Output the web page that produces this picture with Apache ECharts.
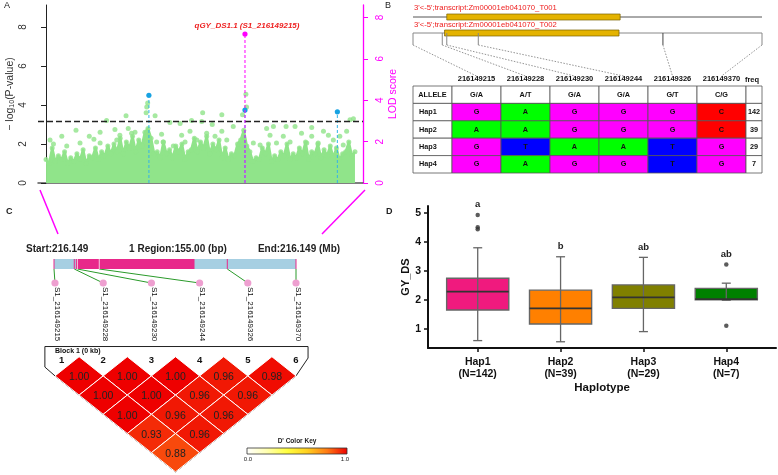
<!DOCTYPE html>
<html><head><meta charset="utf-8">
<script src="https://cdn.jsdelivr.net/npm/echarts@6/dist/echarts.min.js"></script>
<style>html,body{margin:0;padding:0;background:#fff}#c{width:778px;height:475px}</style>
</head><body><div id="c"></div><script>
// ---------------- Panel A data (Manhattan / LOD) ----------------
const envX = [0,1,2,3,4,5,6,7,8,9,10,11,12,13,14,15,16,17,18,19,20,21,22,23,24,25,26,27,28,29,30,31,32,33,34,35,36,37,38,39,40,41,42,43,44,45,46,47,48,49,50,51,52,53,54,55,56,57,58,59,60,61,62,63,64,65,66,67,68,69,70,71,72,73,74,75,76,77,78,79,80,81,82,83,84,85,86,87,88,89,90,91,92,93,94,95,96,97,98,99,100];
const envY = [1.2,1.0,1.8,1.1,1.4,1.2,1.6,1.0,1.3,1.1,1.5,1.2,1.7,1.0,1.4,1.3,1.8,1.2,1.6,1.4,
  1.9,1.5,2.0,1.6,2.3,1.5,2.1,1.8,2.4,1.6,2.2,1.9,2.6,2.8,2.3,1.5,1.6,1.3,2.1,1.5,
  1.7,1.3,1.9,1.6,2.0,1.2,1.6,1.7,2.3,1.6,2.1,1.8,2.4,1.5,2.0,1.7,2.2,1.3,1.8,1.2,
  1.5,1.4,2.0,2.2,2.7,1.9,1.6,1.1,1.3,1.2,1.8,1.5,2.0,1.1,1.4,1.2,1.6,1.4,2.0,1.2,
  1.5,1.3,1.8,1.5,2.1,1.2,1.6,1.5,2.0,1.3,1.7,1.4,1.9,1.3,1.8,1.2,1.5,1.6,2.1,1.4,1.6];
const upperPts = [[1.3,2.2],[5.1,2.4],[9.7,2.7],[14.0,2.4],[17.5,2.6],[19.6,3.2],[22.3,2.75],[25.9,3.45],[26.6,2.8],[28.8,2.6],
  [32.6,3.9],[32.9,4.1],[32.4,3.6],[35.3,3.45],[37.4,2.5],[40.1,3.1],[43.4,3.05],[43.9,2.45],[47.1,3.2],[50.7,3.6],
  [50.4,3.15],[53.8,3.0],[56.9,3.5],[56.9,2.65],[60.6,2.9],[63.6,3.5],[64.7,4.55],[64.9,3.9],[71.4,2.8],[73.6,2.9],
  [77.7,2.9],[80.6,2.9],[86.0,2.85],[86.0,2.4],[98.4,3.25],[99.5,3.3],[91.4,2.45],[97.3,2.65],
  [2.4,2.0],[6.7,1.9],[11.0,2.05],[15.5,2.25],[17.5,2.05],[22.9,2.2],[23.9,2.45],[27.7,2.55],[35.8,2.1],[37.9,2.1],
  [41.2,1.9],[45.0,2.1],[46.6,2.65],[48.8,2.2],[52.0,2.55],[54.7,2.4],[58.5,2.2],[67.1,2.05],[69.3,1.95],[72.5,2.45],
  [74.6,2.05],[76.8,2.4],[79.0,2.1],[82.7,2.55],[84.4,2.05],[88.1,2.05],[89.8,2.65],[93.0,2.2],[95.1,2.4],[96.2,1.95]];
const leadSnps = [[33.3,4.5],[64.4,3.74],[94.3,3.65]];
const qtlPeak = [[64.4,7.2]];
const qtlName = 'qGY_DS1.1 (S1_216149215)';
const threshold = 3.18;
const pTicks = [0,2,4,6,8];
const lodTicks = [0,2,4,6,8];

// ---------------- Panel B data (gene + haplotype table) ----------------
const regionStart = 216149215, regionEnd = 216149370;
const transcriptNames = ["3'<-5';transcript:Zm00001eb041070_T001", "3'<-5';transcript:Zm00001eb041070_T002"];
const transcriptStart = [216149230, 216149229];
const transcriptEnd = [216149307, 216149306.5];
const snpPos = [216149215,216149228,216149230,216149244,216149326,216149370];
const alleles = ['G/A','A/T','G/A','G/A','G/T','C/G'];
const haps = ['Hap1','Hap2','Hap3','Hap4'];
const hapSeq = [['G','A','G','G','G','C'],['A','A','G','G','G','C'],['G','T','A','A','T','G'],['G','A','G','G','T','G']];
const hapFreq = [142,39,29,7];
const baseColor = {G:'#ff00ff', A:'#00ff00', T:'#0000ff', C:'#ff0000'};

// ---------------- Panel C data (LD block) ----------------
const geneStart = 216149229, geneEnd = 216149305;
const ldValues = [[1,2,1.00],[2,3,1.00],[3,4,1.00],[4,5,0.96],[5,6,0.98],
  [1,3,1.00],[2,4,1.00],[3,5,0.96],[4,6,0.96],
  [1,4,1.00],[2,5,0.96],[3,6,0.96],
  [1,5,0.93],[2,6,0.96],
  [1,6,0.88]];
const ldColors = ['#ffffff','#ffffb0','#ffff40','#ffd020','#ff7a14','#ee0000'];

// ---------------- Panel D data (boxplot) ----------------
const hapN = [142,39,29,7];
const boxStats = [[0.60,1.655,2.29,2.75,3.80],[0.56,1.17,1.71,2.34,3.49],[0.91,1.71,2.09,2.52,3.47],[1.99,2.01,2.03,2.40,2.58]];
const outliers = [[1,4.93],[1,4.51],[1,4.44],[4,3.22],[4,1.11]];
const sigLetters = ['a','b','ab','ab'];
const hapColors = ['#f01a7e','#ff8000','#808000','#008000'];

// ---------------- layout constants ----------------
const FF = 'Liberation Sans';
const GREEN = '#90e48a';
const ALLELE_W = 39, FREQ_W = 16;

const chart = echarts.init(document.getElementById('c'));

const tableCells = [];
tableCells.push({col:-1,row:0,text:'ALLELE',fill:'#fff',align:'center'});
alleles.forEach((a,c)=>tableCells.push({col:c,row:0,text:a,fill:'#fff',align:'center'}));
tableCells.push({col:6,row:0,text:'',fill:'#fff',align:'center'});
haps.forEach((h,r)=>{
  tableCells.push({col:-1,row:r+1,text:h,fill:'#fff',align:'left'});
  hapSeq[r].forEach((b,c)=>tableCells.push({col:c,row:r+1,text:b,fill:baseColor[b],align:'center'}));
  tableCells.push({col:6,row:r+1,text:String(hapFreq[r]),fill:'#fff',align:'center'});
});

function hv(gi,min,max,inv){return {gridIndex:gi,type:'value',min:min,max:max,inverse:!!inv,show:false};}
const envData = envX.map((x,i)=>[x,envY[i]]);

const option = {
  animation:false,
  textStyle:{fontFamily:FF},
  grid:[
    {left:38, top:5, width:325, height:178},
    {left:413, top:5, width:349, height:40},
    {left:452, top:86, width:294, height:87},
    {left:54, top:259, width:242, height:10},
    {left:55, top:283, width:241, height:60},
    {left:55, top:356.7, width:241, height:115.2},
    {left:428, top:206, width:348, height:142}
  ],
  xAxis:[
    {gridIndex:0,type:'value',min:-2.6,max:102.6,axisLine:{show:true,onZero:false,lineStyle:{color:'#555',width:1.5}},axisTick:{show:false},axisLabel:{show:false},splitLine:{show:false}},
    hv(1,regionStart,regionEnd),
    {gridIndex:2,type:'category',position:'top',data:snpPos.map(String),axisLine:{show:false},axisTick:{show:false},
      axisLabel:{margin:3,fontSize:7.5,fontWeight:'bold',color:'#111',interval:0}},
    hv(3,regionStart,regionEnd),
    hv(4,1,6),
    hv(5,1,6),
    {gridIndex:6,type:'value',min:0.4,max:4.6,splitLine:{show:false},
      axisLine:{show:true,onZero:false,lineStyle:{color:'#111',width:2}},
      axisTick:{show:true,length:4,lineStyle:{color:'#111',width:1.5},customValues:[1,2,3,4]},
      axisLabel:{customValues:[1,2,3,4],margin:8,fontSize:10.5,fontWeight:'bold',color:'#111',lineHeight:12,
        formatter:v=>{const k=Math.round(v)-1;return haps[k]+'\n(N='+hapN[k]+')';}},
      name:'Haplotype',nameLocation:'middle',nameGap:34,nameTextStyle:{fontSize:11.5,fontWeight:'bold',color:'#111'}}
  ],
  yAxis:[
    {gridIndex:0,type:'value',min:0,max:9.13,position:'left',splitLine:{show:false},
      axisLine:{show:true,lineStyle:{color:'#222'}},
      axisTick:{show:true,length:5,customValues:pTicks,lineStyle:{color:'#222'}},
      axisLabel:{rotate:90,margin:10,fontSize:10,color:'#333',customValues:pTicks},
      name:'{a|\u2212 log}{s|10}{a|(P-value)}',nameLocation:'middle',nameRotate:90,nameGap:22,
      nameTextStyle:{rich:{a:{fontSize:10.5,color:'#333'},s:{fontSize:7,color:'#333',verticalAlign:'bottom'}}}},
    {gridIndex:0,type:'value',min:0,max:8.6,position:'right',splitLine:{show:false},
      axisLine:{show:true,lineStyle:{color:'#ff00ff',width:1.3}},
      axisTick:{show:true,length:5,customValues:lodTicks,lineStyle:{color:'#ff00ff'}},
      axisLabel:{rotate:90,margin:12,fontSize:10,color:'#ff00ff',customValues:lodTicks},
      name:'LOD score',nameLocation:'middle',nameRotate:90,nameGap:25,nameTextStyle:{color:'#ff00ff',fontSize:10.5}},
    hv(1,0,40,true),
    {gridIndex:2,type:'category',data:['ALLELE'].concat(haps),inverse:true,show:false},
    hv(3,0,1),
    hv(4,0,1),
    hv(5,0,6,true),
    {gridIndex:6,type:'value',min:0.345,max:5.24,splitLine:{show:false},
      axisLine:{show:true,lineStyle:{color:'#111',width:2}},
      axisTick:{show:true,length:4,customValues:[1,2,3,4,5],lineStyle:{color:'#111',width:1.5}},
      axisLabel:{customValues:[1,2,3,4,5],margin:7,fontSize:10.5,fontWeight:'bold',color:'#111'},
      name:'GY_DS',nameLocation:'middle',nameRotate:90,nameGap:17,nameTextStyle:{fontSize:11,fontWeight:'bold',color:'#111'}}
  ],
  visualMap:[{type:'continuous',show:false,min:0,max:1,dimension:2,seriesIndex:11,inRange:{color:ldColors}}],
  series:[
    // 0 area mass
    {type:'line',xAxisIndex:0,yAxisIndex:0,data:envData,symbol:'none',
      lineStyle:{color:GREEN,width:2.5,join:'round'},areaStyle:{color:GREEN,opacity:1},z:2,
      markLine:{silent:true,symbol:'none',label:{show:false},lineStyle:{color:'#222',type:[6,3],width:1.3},data:[{yAxis:threshold}]}},
    // 1 envelope dots
    {type:'scatter',xAxisIndex:0,yAxisIndex:0,data:envData,symbolSize:5,itemStyle:{color:GREEN},z:2},
    // 2 upper dots
    {type:'scatter',xAxisIndex:0,yAxisIndex:0,data:upperPts,symbolSize:5,itemStyle:{color:GREEN},z:2},
    // 3 lead SNPs
    {type:'custom',xAxisIndex:0,yAxisIndex:0,data:leadSnps,z:4,renderItem:(p,api)=>{
      const x=api.value(0),y=api.value(1);const t=api.coord([x,y]),b=api.coord([x,0]);
      return {type:'group',children:[
        {type:'line',shape:{x1:b[0],y1:b[1],x2:t[0],y2:t[1]},style:{stroke:'#35b4e8',lineWidth:1,lineDash:[3,2]}},
        {type:'circle',shape:{cx:t[0],cy:t[1],r:2.6},style:{fill:'#17a2e2'}}]};}},
    // 4 QTL peak on LOD axis
    {type:'custom',xAxisIndex:0,yAxisIndex:1,data:qtlPeak,z:5,renderItem:(p,api)=>{
      const x=api.value(0),y=api.value(1);const t=api.coord([x,y]),b=api.coord([x,0]);
      return {type:'group',children:[
        {type:'line',shape:{x1:b[0],y1:b[1],x2:t[0],y2:t[1]},style:{stroke:'#ff00ff',lineWidth:1,lineDash:[3,2]}},
        {type:'circle',shape:{cx:t[0],cy:t[1],r:2.6},style:{fill:'#ff00ff'}},
        {type:'text',x:t[0]+2,y:t[1]-8,style:{text:qtlName,fill:'#ee2222',fontSize:8,fontWeight:'bold',fontStyle:'italic',fontFamily:FF,align:'center',verticalAlign:'middle'}}]};}},
    // 5 transcripts
    {type:'custom',xAxisIndex:1,yAxisIndex:2,data:transcriptStart.map((s,i)=>[s,transcriptEnd[i]]),renderItem:(p,api)=>{
      const i=p.dataIndex;const rowY=[12,28][i];
      const L=api.coord([regionStart,rowY]),R=api.coord([regionEnd,rowY]);
      const s=api.coord([api.value(0),rowY]),e=api.coord([api.value(1),rowY]);
      return {type:'group',children:[
        {type:'line',shape:{x1:L[0],y1:L[1],x2:R[0],y2:R[1]},style:{stroke:i?'#888':'#555',lineWidth:1}},
        {type:'rect',shape:{x:s[0],y:s[1]-3,width:e[0]-s[0],height:6},style:{fill:'#e4b300',stroke:'#7a6200',lineWidth:0.7}},
        {type:'text',x:L[0]+1,y:L[1]-(i?8:9),style:{text:transcriptNames[i],fill:'#ee1c1c',fontSize:7.7,fontFamily:FF,align:'left',verticalAlign:'middle'}}]};}},
    // 6 bracket ticks
    {type:'custom',xAxisIndex:1,yAxisIndex:2,data:snpPos.map(s=>[s]),renderItem:(p,api)=>{
      const a=api.coord([api.value(0),28]),b=api.coord([api.value(0),40]);
      return {type:'line',shape:{x1:a[0],y1:a[1],x2:b[0],y2:b[1]},style:{stroke:p.dataIndex===4?'#444':'#888',lineWidth:1}};}},
    // 7 haplotype table
    {type:'custom',xAxisIndex:2,yAxisIndex:3,data:tableCells.map(c=>[Math.min(Math.max(c.col,0),5),c.row]),renderItem:(p,api)=>{
      const cell=tableCells[p.dataIndex];const sz=api.size([1,1]);const ref=api.coord([api.value(0),api.value(1)]);
      let x0,w;
      if(cell.col===-1){x0=ref[0]-sz[0]/2-ALLELE_W;w=ALLELE_W;}
      else if(cell.col===6){x0=ref[0]+sz[0]/2;w=FREQ_W;}
      else {x0=ref[0]-sz[0]/2;w=sz[0];}
      const y0=ref[1]-sz[1]/2;
      return {type:'group',children:[
        {type:'rect',shape:{x:x0,y:y0,width:w,height:sz[1]},style:{fill:cell.fill,stroke:'#555',lineWidth:0.8}},
        {type:'text',x:cell.align==='left'?x0+6:x0+w/2,y:y0+sz[1]/2,style:{text:cell.text,fill:'#111',fontSize:7.3,fontWeight:'bold',fontFamily:FF,align:cell.align,verticalAlign:'middle'}}]};}},
    // 8 region bar
    {type:'custom',xAxisIndex:3,yAxisIndex:4,data:[[geneStart,geneEnd]],renderItem:(p,api)=>{
      const a=api.coord([regionStart,1]),b=api.coord([regionEnd,0]);
      const g1=api.coord([api.value(0),1]),g2=api.coord([api.value(1),0]);
      const ch=[{type:'rect',shape:{x:a[0],y:a[1],width:b[0]-a[0],height:b[1]-a[1]},style:{fill:'#a6cfe2'}},
        {type:'rect',shape:{x:g1[0],y:g1[1],width:g2[0]-g1[0],height:g2[1]-g1[1]},style:{fill:'#e8288a'}}];
      snpPos.forEach(s=>{const t=api.coord([s,1]),u=api.coord([s,0]);const inG=s>geneStart&&s<geneEnd;
        ch.push({type:'line',shape:{x1:t[0],y1:t[1],x2:u[0],y2:u[1]},style:{stroke:inG?'#f6c8de':'#e8288a',lineWidth:1}});});
      return {type:'group',children:ch};}},
    // 9 SNP circles and labels
    {type:'custom',xAxisIndex:4,yAxisIndex:5,data:snpPos.map((s,i)=>[i+1,1]),renderItem:(p,api)=>{
      const c=api.coord([api.value(0),api.value(1)]);
      return {type:'group',children:[
        {type:'circle',shape:{cx:c[0],cy:c[1],r:3.6},style:{fill:'#ee9fd0'}},
        {type:'text',x:c[0]+2.5,y:c[1]+4,rotation:-Math.PI/2,style:{text:'S1_'+snpPos[p.dataIndex],fill:'#111',fontSize:8,fontFamily:FF,align:'left',verticalAlign:'middle'}}]};}},
    // 10 LD frame + labels
    {type:'custom',xAxisIndex:5,yAxisIndex:6,data:[[1,0]],renderItem:(p,api)=>{
      const pts=[[0.79,-0.53],[6.25,-0.53],[6.25,0.07],[6,1],[3.5,6],[1,1],[0.79,0.54]].map(q=>api.coord(q));
      const ch=[{type:'polygon',shape:{points:pts},style:{fill:'#fff',stroke:'#222',lineWidth:1}}];
      const bl=api.coord([1,-0.31]);
      ch.push({type:'text',x:bl[0],y:bl[1],style:{text:'Block 1 (0 kb)',fill:'#111',fontSize:7,fontWeight:'bold',fontFamily:FF,align:'left',verticalAlign:'middle'}});
      for(let i=1;i<=6;i++){const q=api.coord([i+(i===1?0.14:0),0.17]);
        ch.push({type:'text',x:q[0],y:q[1],style:{text:String(i),fill:'#111',fontSize:9.5,fontWeight:'bold',fontFamily:FF,align:'center',verticalAlign:'middle'}});}
      return {type:'group',children:ch};}},
    // 11 LD diamonds
    {type:'custom',xAxisIndex:5,yAxisIndex:6,data:ldValues.map(v=>[(v[0]+v[1])/2,v[1]-v[0],v[2]]),renderItem:(p,api)=>{
      const cx=api.value(0),d=api.value(1),v=api.value(2);
      const pts=[[cx-0.5,d],[cx,d-1],[cx+0.5,d],[cx,d+1]].map(q=>api.coord(q));const c=api.coord([cx,d]);
      return {type:'group',children:[
        {type:'polygon',shape:{points:pts},style:{fill:api.visual('color'),stroke:'#fff',lineWidth:1}},
        {type:'text',x:c[0],y:c[1]+1.5,style:{text:v.toFixed(2),fill:'#222',fontSize:10.5,fontFamily:FF,align:'center',verticalAlign:'middle'}}]};}},
    // 12 boxplot
    {type:'custom',xAxisIndex:6,yAxisIndex:7,data:boxStats.map((s,k)=>[k+1].concat(s)),z:3,renderItem:(p,api)=>{
      const k=p.dataIndex;const x=api.value(0);
      const v=[1,2,3,4,5].map(d=>api.value(d));
      const bw=api.size([1,0])[0]*0.75;
      const cx=api.coord([x,v[2]])[0];
      const Y=v.map(q=>api.coord([x,q])[1]);
      let top=v[4];outliers.forEach(o=>{if(o[0]===x&&o[1]>top)top=o[1];});
      const ly=api.coord([x,top+0.18])[1];
      const cap=4.5;
      return {type:'group',children:[
        {type:'rect',shape:{x:cx-bw/2,y:Y[3],width:bw,height:Y[1]-Y[3]},style:{fill:hapColors[k],stroke:'#666',lineWidth:1.4}},
        {type:'line',shape:{x1:cx,y1:Y[0],x2:cx,y2:Y[4]},style:{stroke:'#666',lineWidth:1.3}},
        {type:'line',shape:{x1:cx-cap,y1:Y[0],x2:cx+cap,y2:Y[0]},style:{stroke:'#666',lineWidth:1.3}},
        {type:'line',shape:{x1:cx-cap,y1:Y[4],x2:cx+cap,y2:Y[4]},style:{stroke:'#666',lineWidth:1.3}},
        {type:'line',shape:{x1:cx-bw/2,y1:Y[2],x2:cx+bw/2,y2:Y[2]},style:{stroke:'#333',lineWidth:1.6}},
        {type:'text',x:cx,y:ly,style:{text:sigLetters[k],fill:'#222',fontSize:9.5,fontWeight:'bold',fontFamily:FF,align:'center',verticalAlign:'bottom'}}]};}},
    // 13 outliers
    {type:'scatter',xAxisIndex:6,yAxisIndex:7,data:outliers,symbolSize:4.5,itemStyle:{color:'#333'},z:4}
  ]
};
chart.setOption(option);

// graphics: panel letters, region header, colour key, cross-panel connectors
const G = [];
function txt(x,y,t,o){G.push({type:'text',x:x,y:y,z:10,style:Object.assign({text:t,fill:'#222',fontSize:9,fontFamily:FF,align:'left',verticalAlign:'middle'},o||{})});}
txt(4,6,'A');txt(385,6,'B');txt(6,212,'C',{fontWeight:'bold'});txt(386,212,'D',{fontWeight:'bold'});
txt(26,249,'Start:'+(regionStart/1e6).toFixed(3),{fontSize:10,fontWeight:'bold'});
txt(178,249,'1 Region:'+(regionEnd-regionStart).toFixed(2)+' (bp)',{fontSize:10,fontWeight:'bold',align:'center'});
txt(299,249,'End:'+(regionEnd/1e6).toFixed(3)+' (Mb)',{fontSize:10,fontWeight:'bold',align:'center'});
txt(752,80,'freq',{fontSize:7.5,fontWeight:'bold',align:'center',fill:'#111'});
txt(297,441,"D' Color Key",{fontSize:6.5,fontWeight:'bold',align:'center'});
txt(248,459,'0.0',{fontSize:6,align:'center'});
txt(345,459,'1.0',{fontSize:6,align:'center'});
G.push({type:'rect',x:247,y:448,shape:{width:100,height:6},style:{stroke:'#333',lineWidth:0.8,
  fill:new echarts.graphic.LinearGradient(0,0,1,0,ldColors.map((c,i)=>({offset:i/(ldColors.length-1),color:c})))}});
// magenta zoom lines A -> C
G.push({type:'line',shape:{x1:40,y1:190,x2:58,y2:234},style:{stroke:'#ff00ff',lineWidth:1.5}});
G.push({type:'line',shape:{x1:365,y1:190,x2:322,y2:234},style:{stroke:'#ff00ff',lineWidth:1.5}});
snpPos.forEach((s,k)=>{
  const a=chart.convertToPixel({gridIndex:1},[s,40]);
  const b=chart.convertToPixel({gridIndex:2},[k,0]);
  G.push({type:'line',shape:{x1:a[0],y1:a[1],x2:b[0],y2:76},style:{stroke:'#777',lineWidth:0.8,lineDash:[1.5,1.5]}});
  const c1=chart.convertToPixel({gridIndex:3},[s,0]);
  const c2=chart.convertToPixel({gridIndex:4},[k+1,1]);
  G.push({type:'line',shape:{x1:c1[0],y1:c1[1],x2:c2[0],y2:c2[1]},style:{stroke:'#2a9a2a',lineWidth:1}});
});
chart.setOption({graphic:G});
</script></body></html>
